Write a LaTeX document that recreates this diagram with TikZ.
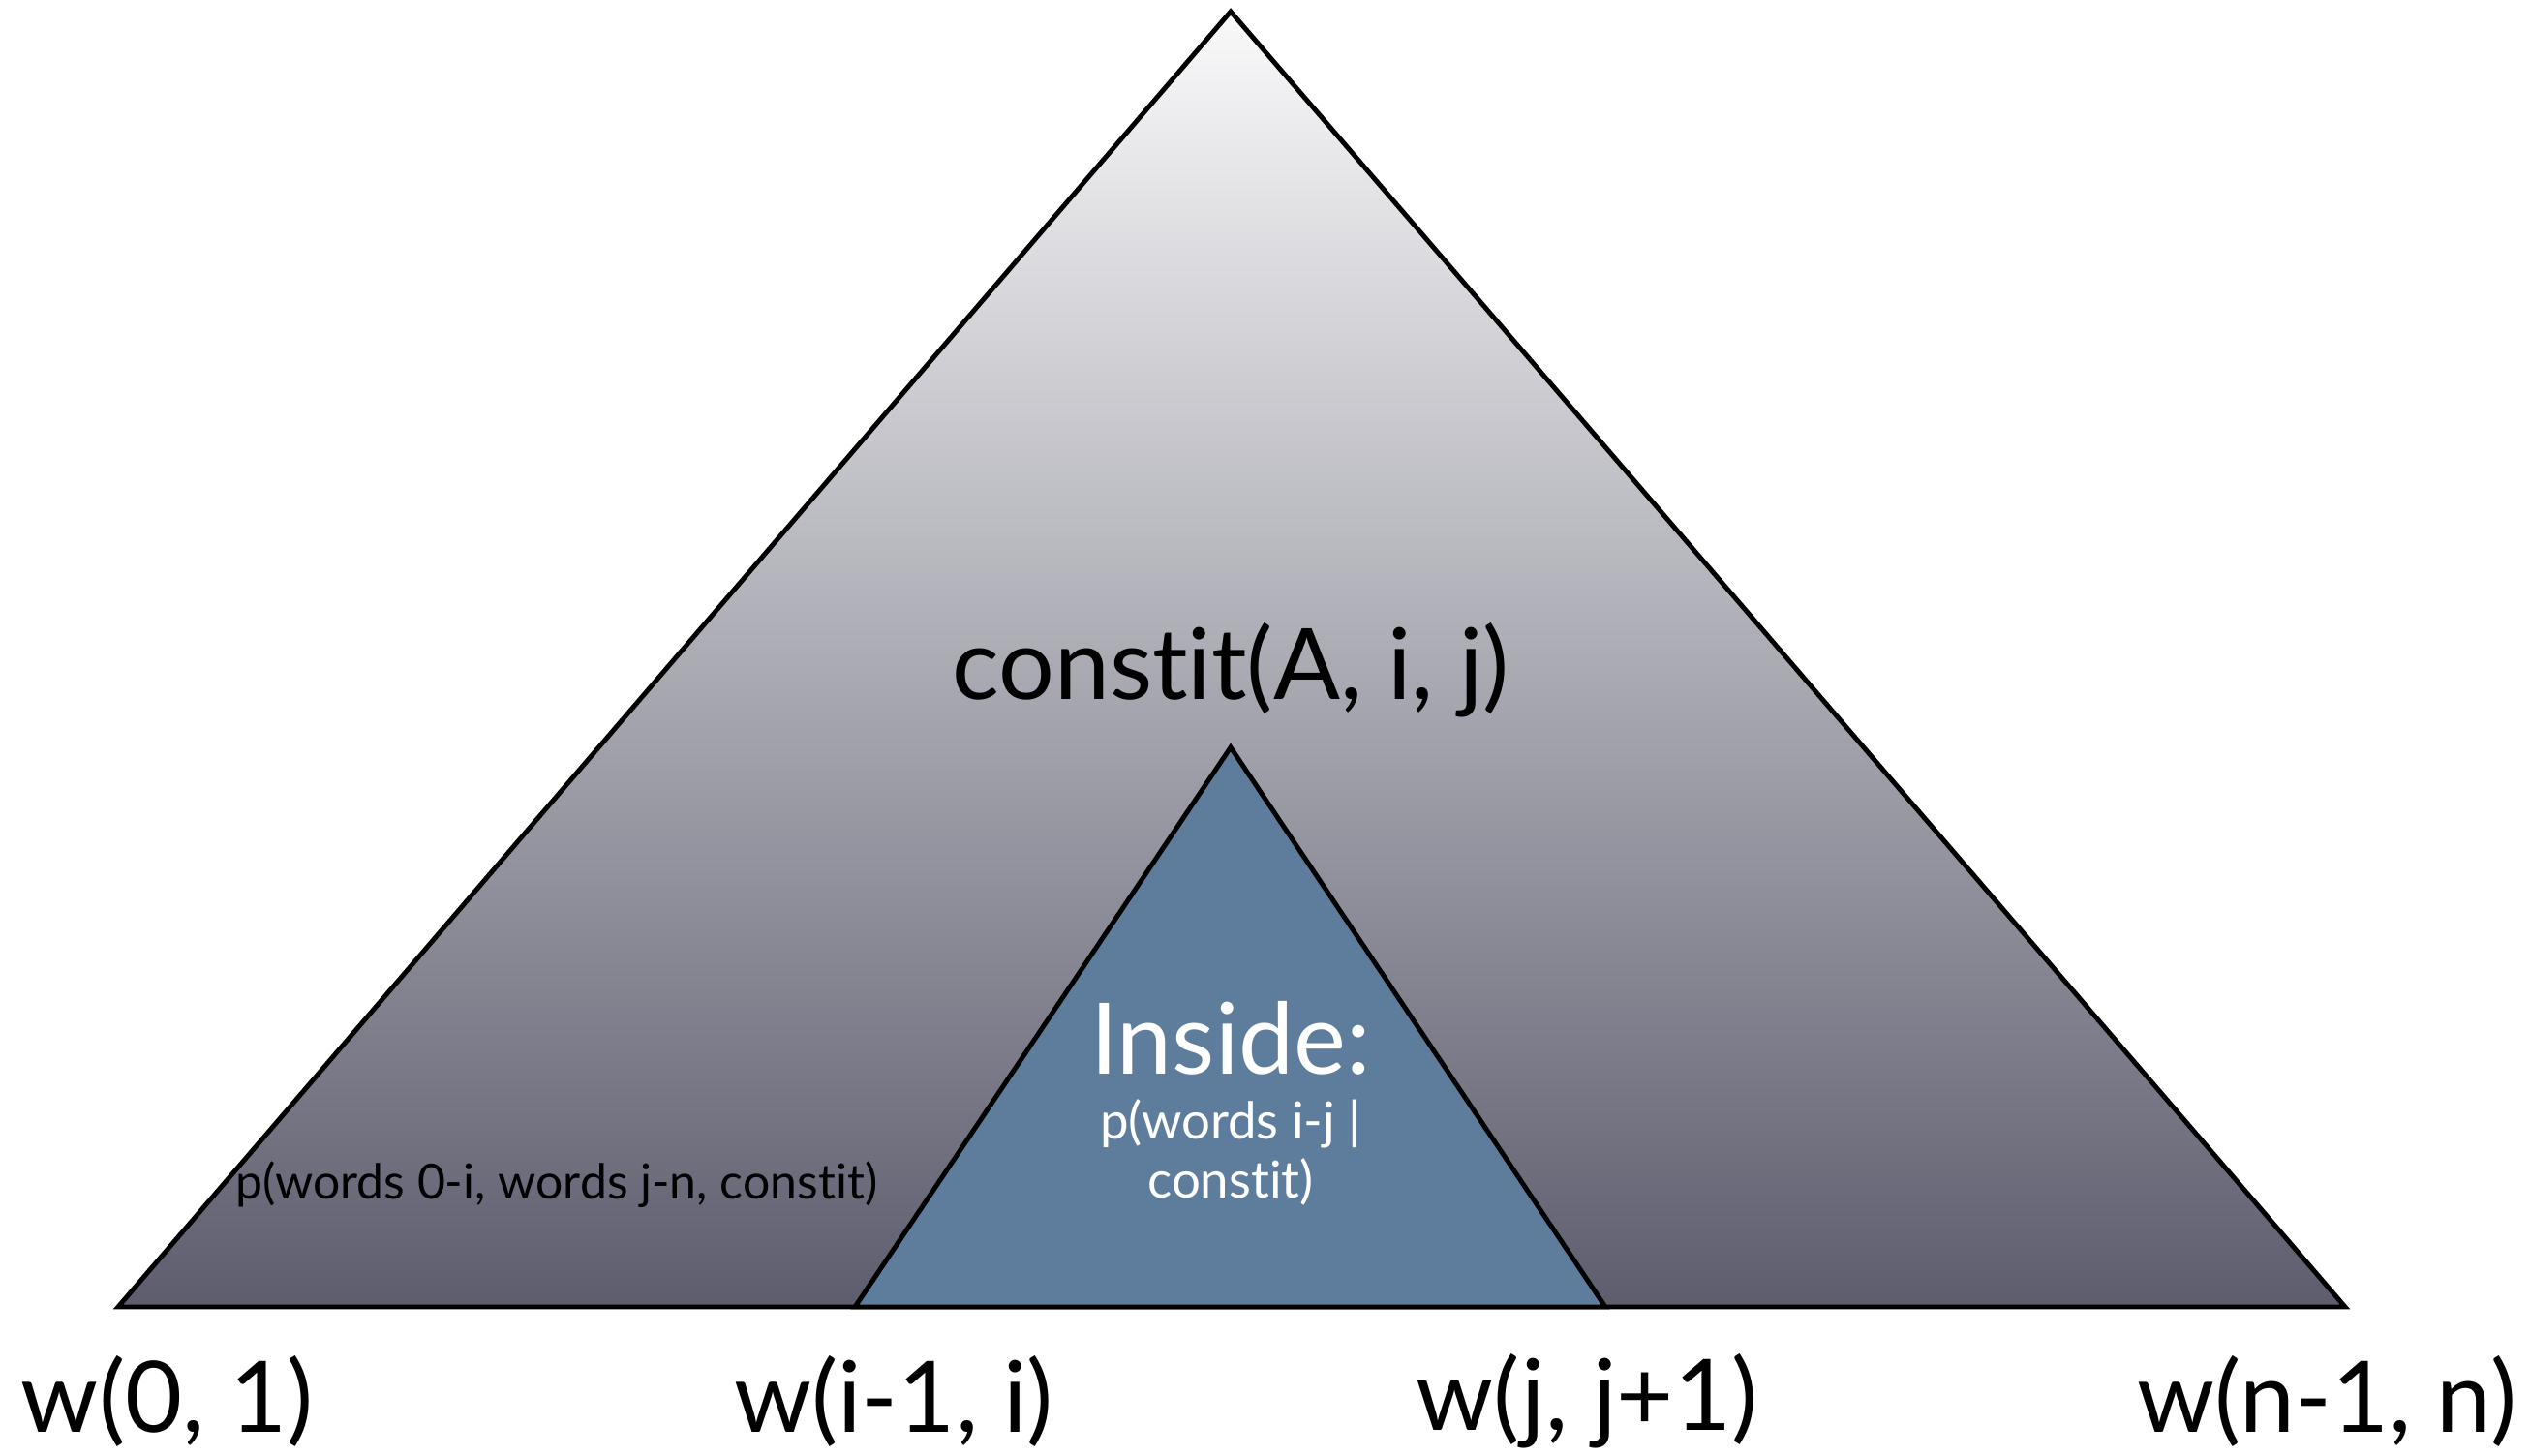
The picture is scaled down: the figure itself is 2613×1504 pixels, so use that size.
\documentclass[tikz,border=0pt]{standalone}
\usepackage{fontspec}
\setmainfont{Lato}[Ligatures={NoCommon}]
\definecolor{outertop}{HTML}{F9F9FA}
\definecolor{outermid}{HTML}{B4B4BC}
\definecolor{outerbot}{HTML}{5D5D6E}
\definecolor{innerfill}{HTML}{5E7C9C}
\begin{document}
\begin{tikzpicture}[x=0.01cm,y=0.01cm,
	tri/.style={draw=black,line width=1.4pt,line join=miter},
	bigtext/.style={font=\fontsize{29}{34}\selectfont},
	smalltext/.style={font=\fontsize{15}{19}\selectfont}]

% frame %{{{1

	\useasboundingbox (0,0) rectangle (2613,1504);

% coordinates %{{{1

	\coordinate (T) at (1271,1492);
	\coordinate (L) at (122,154);
	\coordinate (R) at (2422,154);

	\coordinate (t) at (1271,732);
	\coordinate (l) at (883,154);
	\coordinate (r) at (1658,154);

% triangles %{{{1

	\draw[tri, top color=outertop, middle color=outermid, bottom color=outerbot]
		(L) -- (T) -- (R) -- cycle;
	\draw[tri, fill=innerfill] (l) -- (t) -- (r) -- cycle;

% labels %{{{1

	\node[bigtext] (root) at (1271,812) {constit(A, i, j)};

	\node[bigtext, text=white] (inside) at (1271,432) {Inside:};
	\node[smalltext, text=white] (inprob) at (1271,343) {p(words i-j |};
	\node[smalltext, text=white] (inprob2) at (1271,283) {constit)};

	\node[smalltext, font=\fontsize{14.2}{18}\selectfont] (outprob) at (575,280)
		{p(words 0-i, words j-n, constit)};

% words %{{{1

	\node[bigtext] (w0) at (173,57) {w(0, 1)};
	\node[bigtext] (wi) at (923,57) {w(i-1, i)};
	\node[bigtext] (wj) at (1639,57) {w(j, j+1)};
	\node[bigtext] (wn) at (2403,57) {w(n-1, n)};

% closing %{{{1

\end{tikzpicture}
\end{document}
